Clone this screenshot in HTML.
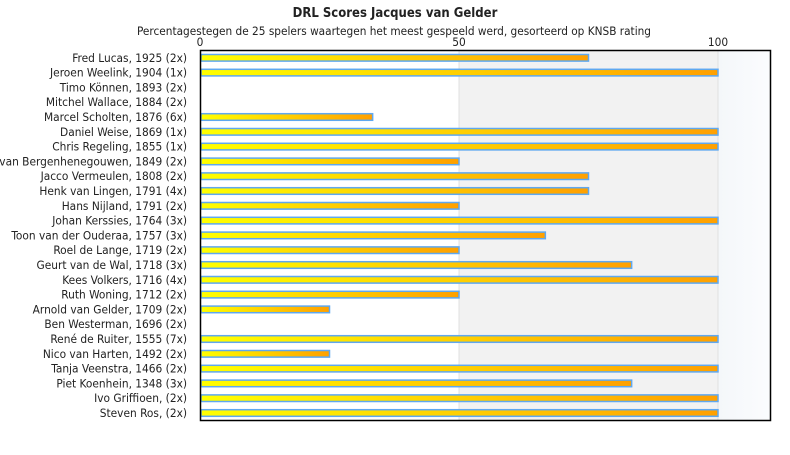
<!DOCTYPE html>
<html><head><meta charset="utf-8"><style>
body{margin:0;background:#fff;}
svg text{font-family:"DejaVu Sans Condensed","DejaVu Sans","Liberation Sans",sans-serif;font-size:11.8px;fill:#222;}
</style></head><body>
<svg width="790" height="450" xmlns="http://www.w3.org/2000/svg">
<defs>
<linearGradient id="g" x1="0" x2="1" y1="0" y2="0"><stop offset="0" stop-color="#ffff00"/><stop offset="1" stop-color="#ffa000"/></linearGradient>
<linearGradient id="bg3" x1="0" x2="1"><stop offset="0" stop-color="#f4f7fa"/><stop offset="1" stop-color="#fbfcfe"/></linearGradient>
</defs>
<text x="395" y="17" text-anchor="middle" style="font-weight:bold;font-size:13px">DRL Scores Jacques van Gelder</text>
<text x="394" y="35" text-anchor="middle" textLength="514" lengthAdjust="spacingAndGlyphs">Percentagestegen de 25 spelers waartegen het meest gespeeld werd, gesorteerd op KNSB rating</text>
<text x="200" y="46" text-anchor="middle">0</text>
<text x="459" y="46" text-anchor="middle">50</text>
<text x="718" y="46" text-anchor="middle">100</text>
<rect x="459" y="50" width="259" height="370" fill="#f2f2f2"/>
<rect x="718" y="50" width="52" height="370" fill="url(#bg3)"/>
<line x1="459" y1="50" x2="459" y2="420" stroke="#e0e0e0"/>
<line x1="718" y1="50" x2="718" y2="420" stroke="#e0e0e0"/>
<g id="rows"></g>
<rect x="200.5" y="50.5" width="570" height="370" fill="none" stroke="#000" stroke-width="1.5"/>
</svg>
<script>
var d=[["Fred Lucas, 1925 (2x)",75],["Jeroen Weelink, 1904 (1x)",100],["Timo Können, 1893 (2x)",0],["Mitchel Wallace, 1884 (2x)",0],["Marcel Scholten, 1876 (6x)",33.33],["Daniel Weise, 1869 (1x)",100],["Chris Regeling, 1855 (1x)",100],["Ivan Bergenhenegouwen, 1849 (2x)",50],["Jacco Vermeulen, 1808 (2x)",75],["Henk van Lingen, 1791 (4x)",75],["Hans Nijland, 1791 (2x)",50],["Johan Kerssies, 1764 (3x)",100],["Toon van der Ouderaa, 1757 (3x)",66.67],["Roel de Lange, 1719 (2x)",50],["Geurt van de Wal, 1718 (3x)",83.33],["Kees Volkers, 1716 (4x)",100],["Ruth Woning, 1712 (2x)",50],["Arnold van Gelder, 1709 (2x)",25],["Ben Westerman, 1696 (2x)",0],["René de Ruiter, 1555 (7x)",100],["Nico van Harten, 1492 (2x)",25],["Tanja Veenstra, 1466 (2x)",100],["Piet Koenhein, 1348 (3x)",83.33],["Ivo Griffioen,  (2x)",100],["Steven Ros,  (2x)",100]];
var ns="http://www.w3.org/2000/svg",g=document.getElementById("rows"),svg=document.querySelector("svg");
d.forEach(function(r,i){var cy=57.8+14.8*i;
var t=document.createElementNS(ns,"text");t.setAttribute("x",187);t.setAttribute("y",cy+4);t.setAttribute("text-anchor","end");t.textContent=r[0];svg.appendChild(t);
if(r[1]>0){var b=document.createElementNS(ns,"rect");b.setAttribute("x",201);b.setAttribute("y",cy-3.3);b.setAttribute("width",r[1]*5.18-1);b.setAttribute("height",6.6);b.setAttribute("fill","url(#g)");b.setAttribute("stroke","#5fa8f0");b.setAttribute("stroke-width","1.5");g.appendChild(b);}
});
</script>
</body></html>
